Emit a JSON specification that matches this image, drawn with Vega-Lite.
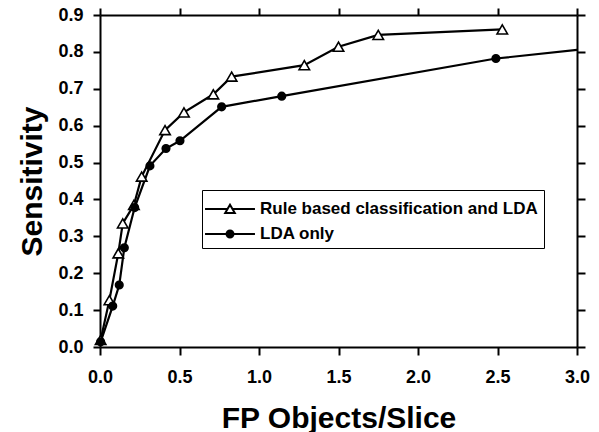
{
  "$schema": "https://vega.github.io/schema/vega-lite/v6.json",
  "width": 477,
  "height": 332,
  "autosize": {"type": "none"},
  "padding": {"left": 100, "top": 15, "right": 22, "bottom": 85},
  "background": "white",
  "config": {
    "view": {"stroke": null},
    "font": "Liberation Sans",
    "axis": {
      "grid": false,
      "domainColor": "black",
      "domainWidth": 2,
      "tickColor": "black",
      "tickWidth": 2,
      "labelFont": "Liberation Sans",
      "labelFontWeight": "bold",
      "labelFontSize": 18,
      "labelColor": "black",
      "labelFlush": false,
      "labelOverlap": false,
      "titleFont": "Liberation Sans",
      "titleFontWeight": "bold",
      "titleFontSize": 30,
      "titleColor": "black"
    },
    "legend": {
      "labelFont": "Liberation Sans",
      "labelFontWeight": "bold",
      "labelFontSize": 17,
      "labelColor": "black",
      "labelLimit": 400
    }
  },
  "data": {
    "values": [
      {"series": "Rule based classification and LDA", "fp": 0.004, "sens": 0.019},
      {"series": "Rule based classification and LDA", "fp": 0.059, "sens": 0.127},
      {"series": "Rule based classification and LDA", "fp": 0.115, "sens": 0.254},
      {"series": "Rule based classification and LDA", "fp": 0.143, "sens": 0.335},
      {"series": "Rule based classification and LDA", "fp": 0.213, "sens": 0.385},
      {"series": "Rule based classification and LDA", "fp": 0.262, "sens": 0.462},
      {"series": "Rule based classification and LDA", "fp": 0.409, "sens": 0.588},
      {"series": "Rule based classification and LDA", "fp": 0.528, "sens": 0.636},
      {"series": "Rule based classification and LDA", "fp": 0.713, "sens": 0.685},
      {"series": "Rule based classification and LDA", "fp": 0.828, "sens": 0.733},
      {"series": "Rule based classification and LDA", "fp": 1.285, "sens": 0.764},
      {"series": "Rule based classification and LDA", "fp": 1.5, "sens": 0.814},
      {"series": "Rule based classification and LDA", "fp": 1.75, "sens": 0.846},
      {"series": "Rule based classification and LDA", "fp": 2.53, "sens": 0.861},
      {"series": "LDA only", "fp": 0.004, "sens": 0.014},
      {"series": "LDA only", "fp": 0.08, "sens": 0.111},
      {"series": "LDA only", "fp": 0.121, "sens": 0.168},
      {"series": "LDA only", "fp": 0.153, "sens": 0.269},
      {"series": "LDA only", "fp": 0.218, "sens": 0.378},
      {"series": "LDA only", "fp": 0.314, "sens": 0.491},
      {"series": "LDA only", "fp": 0.415, "sens": 0.538},
      {"series": "LDA only", "fp": 0.503, "sens": 0.559},
      {"series": "LDA only", "fp": 0.765, "sens": 0.651},
      {"series": "LDA only", "fp": 1.143, "sens": 0.68},
      {"series": "LDA only", "fp": 2.49, "sens": 0.782},
      {"series": "LDA only", "fp": 3.1, "sens": 0.81}
    ]
  },
  "resolve": {"scale": {"x": "independent", "y": "independent"}},
  "layer": [
    {
      "mark": {"type": "line", "strokeWidth": 2.2, "clip": true},
      "encoding": {
        "x": {
          "field": "fp", "type": "quantitative",
          "scale": {"domain": [0, 3], "nice": false, "zero": false},
          "axis": {
            "orient": "bottom",
            "values": [0, 0.5, 1, 1.5, 2, 2.5, 3],
            "format": ".1f",
            "title": "FP Objects/Slice",
            "tickSize": 8,
            "labelPadding": 13,
            "titlePadding": 17
          }
        },
        "y": {
          "field": "sens", "type": "quantitative",
          "scale": {"domain": [0, 0.9], "nice": false, "zero": false},
          "axis": {
            "orient": "left",
            "values": [0, 0.1, 0.2, 0.3, 0.4, 0.5, 0.6, 0.7, 0.8, 0.9],
            "format": ".1f",
            "title": "Sensitivity",
            "tickSize": 7,
            "labelPadding": 10,
            "titlePadding": 10
          }
        },
        "stroke": {
          "field": "series", "type": "nominal",
          "scale": {
            "domain": ["Rule based classification and LDA", "LDA only"],
            "range": ["black", "black"]
          },
          "legend": {
            "title": null,
            "orient": "none",
            "legendX": 102,
            "legendY": 175,
            "padding": 6,
            "strokeColor": "black",
            "fillColor": "white",
            "symbolType": "circle",
            "symbolSize": 576,
            "symbolStrokeWidth": 2,
            "symbolOffset": 9,
            "labelOffset": 17,
            "rowPadding": 4,
            "encode": {
              "symbols": {
                "update": {
                  "shape": {"signal": "datum.value === 'LDA only' ? 'M-2.08,0L2.08,0M0.29,0A0.29,0.29,0,1,1,-0.29,0A0.29,0.29,0,1,1,0.29,0Z' : 'M-2.08,0L-0.21,0M0.21,0L2.08,0M0,-0.36L0.4,0.33L-0.4,0.33Z'"},
                  "fill": {"signal": "datum.value === 'LDA only' ? 'black' : 'white'"}
                }
              }
            }
          }
        }
      }
    },
    {
      "transform": [{"filter": "datum.fp <= 3"}],
      "mark": {"type": "point", "stroke": "black", "strokeWidth": 1.6, "size": 110, "opacity": 1},
      "encoding": {
        "x": {
          "field": "fp", "type": "quantitative",
          "scale": {"domain": [0, 3], "nice": false, "zero": false},
          "axis": {
            "orient": "top",
            "values": [0, 0.5, 1, 1.5, 2, 2.5, 3],
            "labels": false,
            "title": null,
            "tickSize": 7
          }
        },
        "y": {
          "field": "sens", "type": "quantitative",
          "scale": {"domain": [0, 0.9], "nice": false, "zero": false},
          "axis": {
            "orient": "right",
            "values": [0, 0.1, 0.2, 0.3, 0.4, 0.5, 0.6, 0.7, 0.8, 0.9],
            "labels": false,
            "title": null,
            "tickSize": 8
          }
        },
        "shape": {
          "field": "series", "type": "nominal",
          "scale": {
            "domain": ["LDA only", "Rule based classification and LDA"],
            "range": ["M0.72,0A0.72,0.72,0,1,1,-0.72,0A0.72,0.72,0,1,1,0.72,0Z", "triangle-up"]
          },
          "legend": null
        },
        "fill": {
          "field": "series", "type": "nominal",
          "scale": {
            "domain": ["LDA only", "Rule based classification and LDA"],
            "range": ["black", "white"]
          },
          "legend": null
        }
      }
    }
  ]
}
